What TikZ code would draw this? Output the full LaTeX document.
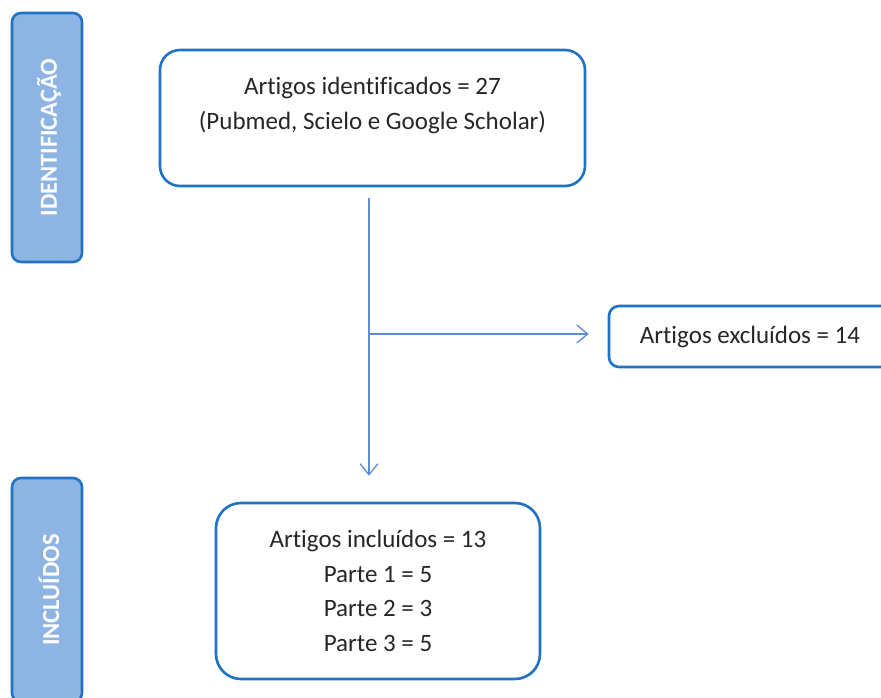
\documentclass[tikz,border=0pt]{standalone}
\usepackage{fontspec}
\setmainfont{Carlito}[Ligatures=NoCommon]
\usetikzlibrary{arrows.meta,calc}
\definecolor{boxblue}{HTML}{1F73C4}
\definecolor{barfill}{HTML}{8EB4E3}
\definecolor{barline}{HTML}{2273C3}
\definecolor{linkblue}{HTML}{5F8CD2}
\definecolor{txt}{HTML}{262626}
\tikzset{
  x=1pt, y=-1pt,
  box/.style={draw=boxblue, line width=2.6pt, fill=white, inner sep=0pt},
  sidebar/.style={draw=barline, line width=2.6pt, fill=barfill, rounded corners=9pt, minimum width=70pt, inner sep=0pt},
  bartext/.style={text=white, font=\fontsize{24.5}{26}\selectfont\bfseries, rotate=90},
  bodytext/.style={text=txt, font=\fontsize{25}{34.5}\selectfont, align=center},
  link/.style={draw=linkblue, line width=1.3pt, -{Straight Barb[length=11pt, width=18pt, line width=1.3pt]}}
}
\begin{document}
\begin{tikzpicture}
\useasboundingbox[fill=white] (0,0) rectangle (881,698);
% side bars
\node[sidebar, minimum height=249pt] (idbar) at (47,137.5) {};
\node[bartext] (idtext) at (49,137.5) {IDENTIFICAÇÃO};
\node[sidebar, minimum height=224pt] (incbar) at (47,590) {};
\node[bartext] (inctext) at (49,590) {INCLUÍDOS};
% boxes
\node[box, rounded corners=20pt, minimum width=425pt, minimum height=136pt] (top) at (372.5,118) {};
\node[bodytext] (toptext) at (372.5,105.5) {Artigos identificados = 27\\(Pubmed, Scielo e Google Scholar)};
\node[box, rounded corners=10pt, minimum width=282pt, minimum height=61pt, bodytext] (exc) at (750,336.5) {Artigos excluídos = 14};
\node[box, rounded corners=25pt, minimum width=324pt, minimum height=176pt, bodytext] (inc) at (378,591) {Artigos incluídos = 13\\Parte 1 = 5\\Parte 2 = 3\\Parte 3 = 5};
% connectors
\coordinate (vstart) at (369,198);
\coordinate (branch) at (369,334);
\draw[link, shorten >=26pt] (vstart) -- (vstart |- inc.north);
\draw[link, shorten >=19pt] (branch) -- (branch -| exc.west);
\end{tikzpicture}
\end{document}
